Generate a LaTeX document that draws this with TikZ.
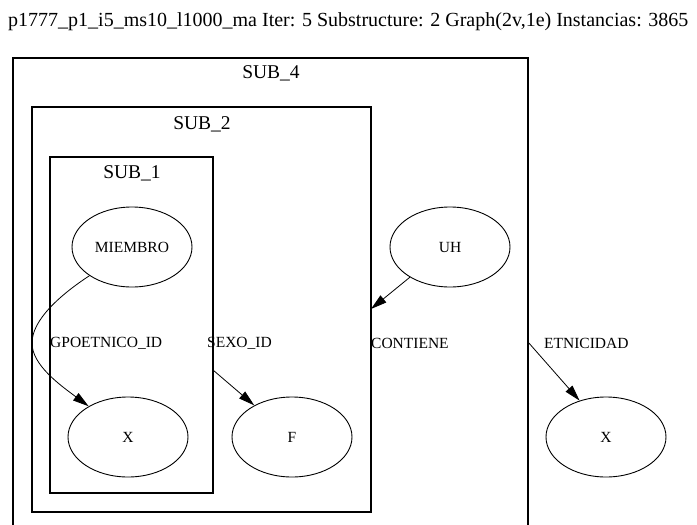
\documentclass[tikz,border=0pt]{standalone}
\usepackage{fontspec}
\setmainfont{Liberation Serif}
\usetikzlibrary{shapes.geometric,arrows.meta}
\begin{document}
\begin{tikzpicture}[x=1pt,y=-1pt,
 ell/.style={draw, ellipse, line width=0.9pt, minimum width=120pt, minimum height=80pt, inner sep=0pt, font=\fontsize{15.5}{15.5}\selectfont},
 clus/.style={draw, rectangle, line width=1.1pt, inner sep=0pt},
 clab/.style={font=\fontsize{19.5}{19.5}\selectfont, inner sep=0pt},
 elab/.style={font=\fontsize{15.5}{15.5}\selectfont, inner sep=0pt, anchor=west},
 arr/.style={-{Triangle[length=16pt,width=9pt]}, line width=0.8pt}
]
\useasboundingbox (0,0) rectangle (697,525);
\node[font=\fontsize{20}{20}\selectfont, anchor=base west, inner sep=0pt] (title) at (8,26) {p1777\_p1\_i5\_ms10\_l1000\_ma Iter: 5 Substructure: 2 Graph(2v,1e) Instancias: 3865};

% clusters
\draw[line width=1.1pt] (13,525) coordinate (s4bl) -- (13,58) coordinate (s4tl) -- (528,58) coordinate (s4tr) -- (528,525) coordinate (s4br);
\node[clus, minimum width=339pt, minimum height=405pt] (sub2) at (201.5,309.5) {};
\node[clus, minimum width=163pt, minimum height=336pt] (sub1) at (131.5,325) {};
\node[clab] (l4) at (271,73) {SUB\_4};
\node[clab] (l2) at (202,124) {SUB\_2};
\node[clab] (l1) at (132,173) {SUB\_1};

% nodes
\node[ell] (m) at (132,247) {MIEMBRO};
\node[ell] (uh) at (450,247) {UH};
\node[ell] (x1) at (128,437) {X};
\node[ell] (f) at (292,437) {F};
\node[ell] (x2) at (606,437) {X};

% edge labels
\node[elab] (e1) at (50,343) {GPOETNICO\_ID};
\node[elab] (e2) at (207,343) {SEXO\_ID};
\node[elab] (e3) at (371,343) {CONTIENE};
\node[elab] (e4) at (544,343) {ETNICIDAD};

% edges
\coordinate (gp) at (32,343);
\coordinate (s1out) at (213,370);
\coordinate (s2in) at (371,309);
\coordinate (s4out) at (528,342);
\draw[arr] (m.214) .. controls (60,295) and (32,320) .. (gp) .. controls (32,365) and (60,385) .. (x1.142);
\draw[arr] (s1out) -- (f.140);
\draw[arr] (uh.217) -- (s2in);
\draw[arr] (s4out) -- (x2.126);
\end{tikzpicture}
\end{document}
